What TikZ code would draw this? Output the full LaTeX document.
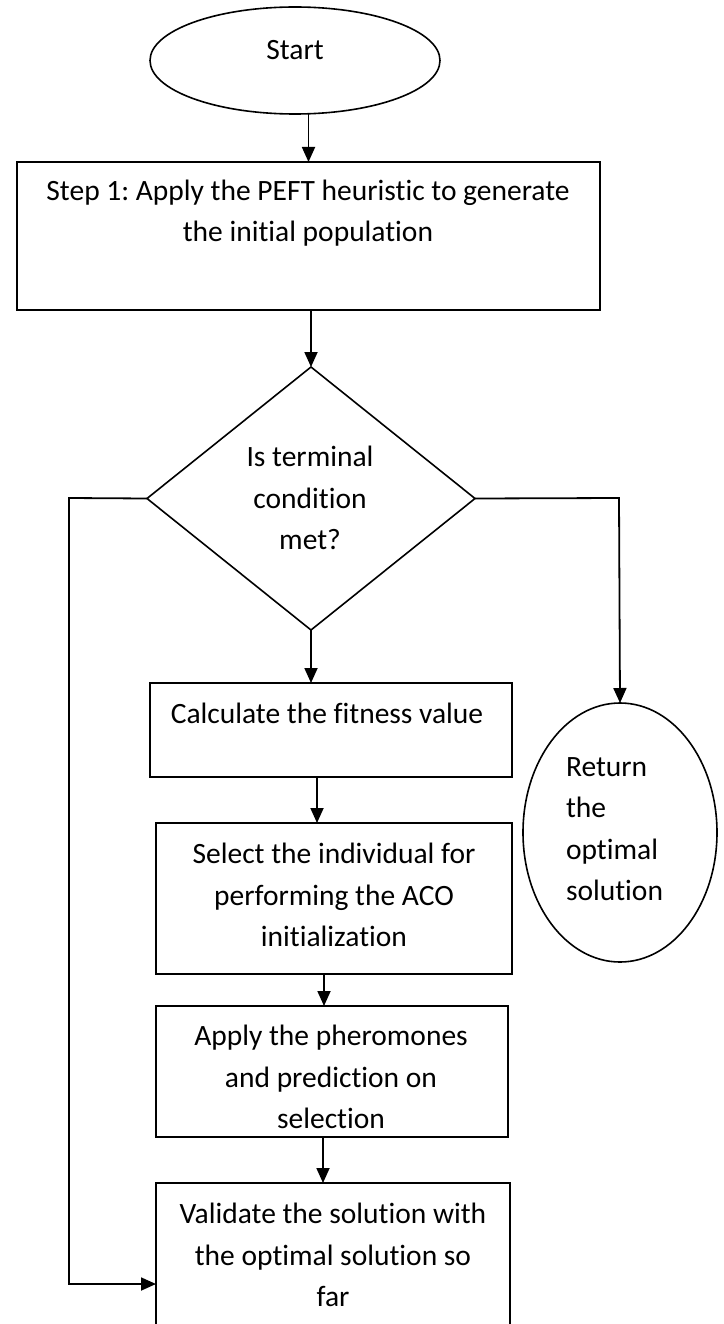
\documentclass[tikz,border=0pt]{standalone}
\usepackage{fontspec}
\setmainfont{Carlito}[Ligatures=NoCommon]
\usetikzlibrary{shapes.geometric,arrows.meta}
\begin{document}
\frenchspacing
\begin{tikzpicture}[x=1pt,y=-1pt,
  every node/.style={outer sep=0pt},
  arr/.style={line width=1.8pt,-{Triangle[length=15pt,width=13pt]}},
  box/.style={draw,line width=1.8pt,rectangle,inner sep=0pt},
  oval/.style={draw,line width=1.6pt,ellipse,inner sep=0pt},
  decision/.style={draw,line width=1.6pt,diamond,inner sep=0pt},
  txt/.style={font=\fontsize{29.5}{41.5}\selectfont,align=center,inner sep=0pt},
]
\useasboundingbox (0,0) rectangle (723,1324);
% shapes
\node[oval,minimum width=290pt,minimum height=107pt] (start) at (295,60.5) {};
\node[txt] at (295,50) {Start};
\node[box,minimum width=583pt,minimum height=148pt] (b1) at (308.5,236) {};
\node[txt] at (308,213) {Step 1: Apply the PEFT heuristic to generate\\the initial population};
\node[decision,minimum width=328pt,minimum height=263pt] (d) at (311,498.5) {};
\node[txt] at (310,498) {Is terminal\\condition\\met?};
\node[box,minimum width=362pt,minimum height=94pt] (calc) at (331,730) {};
\node[txt] at (327,713) {Calculate the fitness value};
\node[box,minimum width=356pt,minimum height=151pt] (sel) at (334,898.5) {};
\node[txt] at (334,895) {Select the individual for\\performing the ACO\\initialization};
\node[box,minimum width=352pt,minimum height=131pt] (app) at (332,1071.5) {};
\node[txt] at (331,1077) {Apply the pheromones\\and prediction on\\selection};
\node[box,minimum width=354pt,minimum height=160pt] (val) at (333,1263) {};
\node[txt] at (333,1255) {Validate the solution with\\the optimal solution so\\far};
\node[oval,minimum width=194pt,minimum height=259pt] (ret) at (620,832.5) {};
\node[txt,align=left,anchor=west] at (566,829) {Return\\the\\optimal\\solution};
% connectors
\coordinate (lc) at (69,498);
\coordinate (lb) at (69,1284);
\coordinate (rc) at (619,498);
\draw[arr] (b1.north |- start.south) -- (b1.north);
\draw[arr] (b1.south -| d.north) -- (d.north);
\draw[arr] (d.south) -- (d.south |- calc.north);
\draw[arr] ([xshift=-14pt]calc.south) -- ([xshift=-14pt]calc.south |- sel.north);
\draw[arr] ([xshift=-10pt]sel.south) -- ([xshift=-10pt]sel.south |- app.north);
\draw[arr] ([xshift=-9pt]app.south) -- ([xshift=-9pt]app.south |- val.north);
\draw[arr] (d.east) -- (rc) -- (ret.north);
\draw[arr] (d.west) -- (lc) -- (lb) -- (lb -| val.west);
\end{tikzpicture}
\end{document}
